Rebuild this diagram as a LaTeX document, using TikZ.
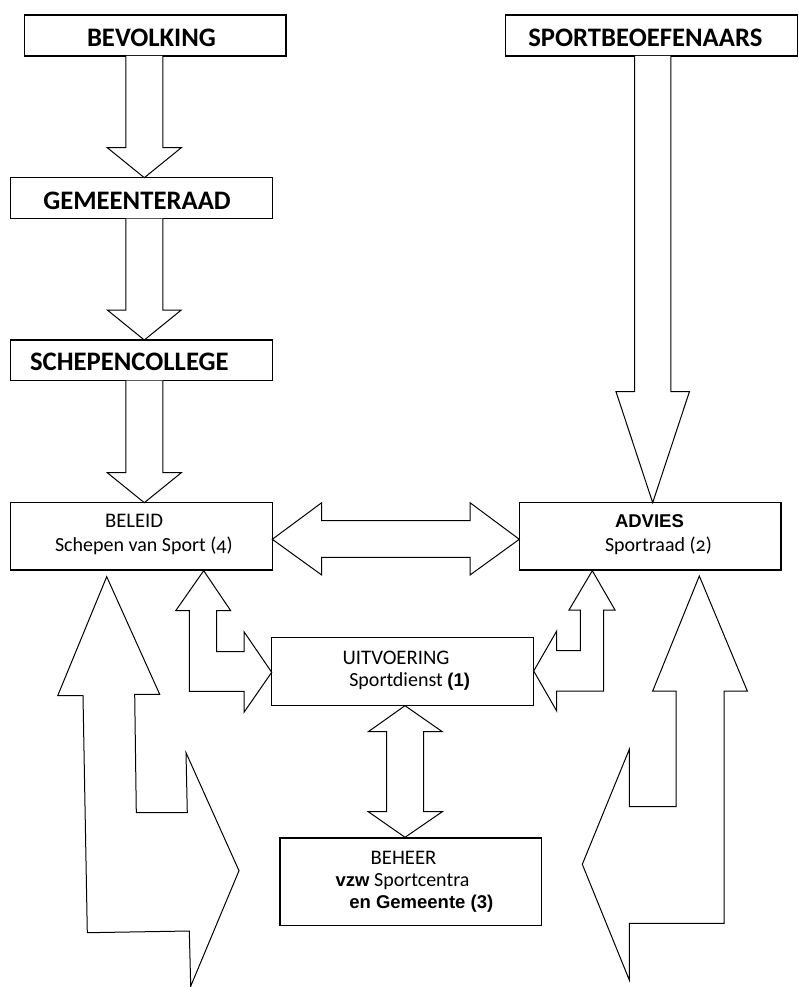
\documentclass[tikz,border=0pt]{standalone}
\usepackage{fontspec}
\setmainfont{Carlito}
\newfontfamily\arialf{Liberation Sans}
\newfontfamily\oldnum{Carlito}[Numbers=OldStyle]
\tikzset{
  box/.style={draw, line width=1.3pt, fill=white, anchor=north west, inner sep=0pt, outer sep=0pt},
  blk/.style={draw, line width=1pt, fill=white, line join=miter},
  lbl/.style={anchor=base west, inner sep=0pt, outer sep=0pt},
  big/.style={font=\fontsize{26.7}{30}\selectfont\bfseries},
  sml/.style={font=\fontsize{20}{24}\selectfont},
  uptxt/.style={font=\fontsize{20.7}{24}\selectfont},
  ari/.style={font=\fontsize{18.5}{22}\selectfont\arialf\bfseries},
}
\newcommand\ab[1]{{\fontsize{18.5}{22}\selectfont\arialf\bfseries #1}}
\newcommand\downblock[6]{%
  \draw[blk] ([xshift=-#4pt]#1 |- #2.south) -- ([xshift=-#4pt,yshift=#6pt]#1 |- #3.north)
    -- ([xshift=-#5pt,yshift=#6pt]#1 |- #3.north) -- (#1 |- #3.north)
    -- ([xshift=#5pt,yshift=#6pt]#1 |- #3.north) -- ([xshift=#4pt,yshift=#6pt]#1 |- #3.north)
    -- ([xshift=#4pt]#1 |- #2.south);}
\begin{document}
\begin{tikzpicture}[x=1pt,y=-1pt]
\useasboundingbox[fill=white] (0,0) rectangle (798,987);
% boxes
\node[box, minimum width=261.7pt, minimum height=41pt] (bev) at (24.3,15) {};
\node[box, minimum width=261.6pt, minimum height=41pt] (gem) at (10.7,177.7) {};
\node[box, minimum width=261.6pt, minimum height=40.7pt] (schep) at (10.7,340) {};
\node[box, minimum width=292pt, minimum height=41pt] (sport) at (505.3,15) {};
\node[box, minimum width=261.6pt, minimum height=67.3pt] (beleid) at (10.7,502.7) {};
\node[box, minimum width=261.7pt, minimum height=67.3pt] (advies) at (519.3,502.7) {};
\node[box, minimum width=262pt, minimum height=68pt] (uitv) at (271.7,637.7) {};
\node[box, minimum width=261.7pt, minimum height=87.7pt] (beheer) at (280,838) {};
% texts
\node[lbl, big] (tbev) at (87,46.7) {BEVOLKING};
\node[lbl, big] (tgem) at (43.3,209) {GEMEENTERAAD};
\node[lbl, big] (tsch) at (30,370.7) {SCHEPENCOLLEGE};
\node[lbl, big] (tspo) at (528.3,46.7) {SPORTBEOEFENAARS};
\node[lbl, uptxt] (tbel1) at (105,527.3) {BELEID};
\node[lbl, sml] (tbel2) at (55,551.7) {Schepen van Sport {\oldnum(4)}};
\node[lbl, ari] (tadv1) at (615,527.3) {ADVIES};
\node[lbl, sml] (tadv2) at (605,551) {Sportraad {\oldnum(2)}};
\node[lbl, uptxt] (tuit1) at (342.7,664) {UITVOERING};
\node[lbl, sml] (tuit2) at (349.3,686.7) {Sportdienst \ab{(1)}};
\node[lbl, uptxt] (tbeh1) at (370.7,864) {BEHEER};
\node[lbl, sml] (tbeh2) at (335.7,886) {\ab{vzw} Sportcentra};
\node[lbl, ari] (tbeh3) at (349.3,908.3) {en Gemeente (3)};
% top arrows
\coordinate (ax) at (144.3,0);
\coordinate (bx) at (652.7,0);
\downblock{ax}{bev}{gem}{18.5}{37}{30}
\downblock{ax}{gem}{schep}{18.5}{37}{30}
\downblock{ax}{schep}{beleid}{18.5}{37}{30}
\downblock{bx}{sport}{advies}{18.2}{36.7}{111}
% BELEID <-> ADVIES
\draw[blk] (beleid.east |- 0,539.3) -- (321.7,502.7) -- (321.7,520.7) -- (470,520.7) -- (470,502.7)
  -- (advies.west |- 0,539.3) -- (470,575) -- (470,557.3) -- (321.7,557.3) -- (321.7,575) -- cycle;
% BELEID <-> UITVOERING
\draw[blk] (203.7,570.7) -- (230.7,610.7) -- (216.7,610.7) -- (216.7,651.7) -- (244,651.7) -- (244,631.7)
  -- (uitv.west |- 0,672.3) -- (244,712.3) -- (244,691.3) -- (189.3,691.3) -- (189.3,610.7) -- (175.7,610.7) -- cycle;
% ADVIES <-> UITVOERING
\draw[blk] (592.3,570.7) -- (615,610) -- (603.7,610) -- (603.7,691) -- (556.7,691) -- (556.7,711)
  -- (uitv.east |- 0,671) -- (556.7,631) -- (556.7,650.7) -- (580.3,650.7) -- (580.3,610) -- (569,610) -- cycle;
% UITVOERING <-> BEHEER
\draw[blk] (405,705.7) -- (442.3,731.7) -- (423.7,731.7) -- (423.7,811.7) -- (442.3,811.7) -- (405,837.3)
  -- (368.3,811.7) -- (386.7,811.7) -- (386.7,731.7) -- (368.3,731.7) -- cycle;
% big left arrow
\draw[blk] (106.7,576.7) -- (159.7,694.3) -- (134.7,694.3) -- (136.3,812.7) -- (187.3,812.7) -- (186,752.7)
  -- (239,870.7) -- (190.7,986.2) -- (189.3,931) -- (87.3,932.7) -- (83,695.7) -- (57.7,695.7) -- cycle;
% big right arrow
\draw[blk] (699.3,576) -- (747.3,691) -- (724,691) -- (724,923.3) -- (629.3,923.3) -- (629.3,980)
  -- (582.3,864.3) -- (629.3,749.3) -- (629.3,806.7) -- (676,806.7) -- (676,691) -- (652.7,691) -- cycle;
\end{tikzpicture}
\end{document}
